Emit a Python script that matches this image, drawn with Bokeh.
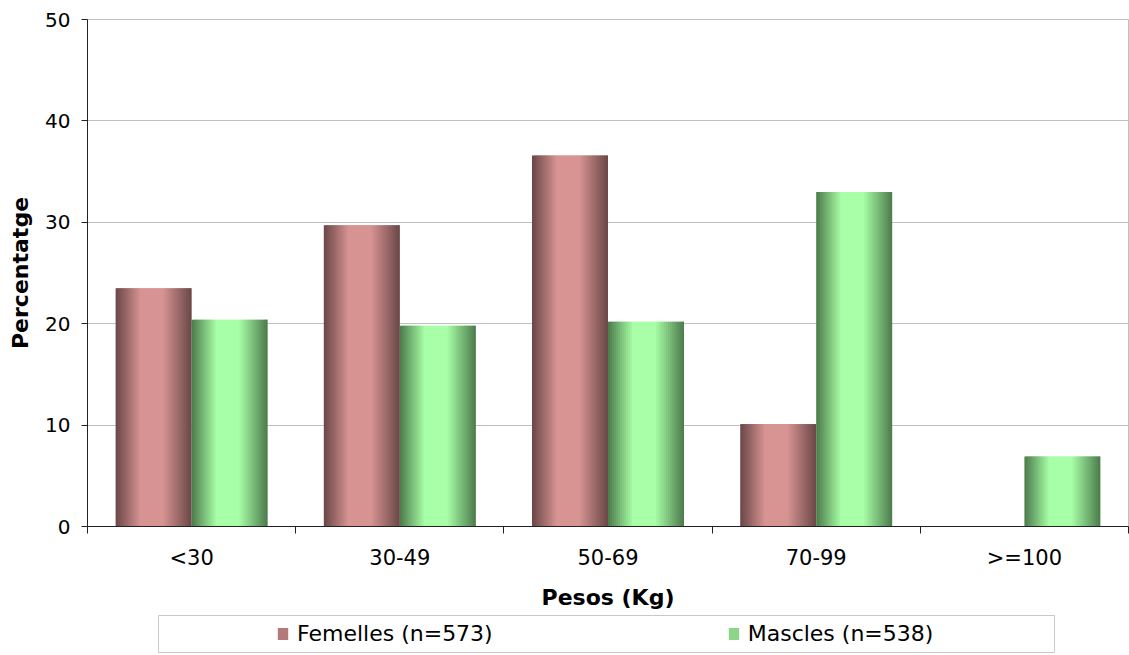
from bokeh.plotting import figure
from bokeh.layouts import column
from bokeh.models import (ColumnDataSource, FixedTicker, Legend, LegendItem, Range1d)
from bokeh.embed import file_html
from bokeh.resources import INLINE

categories = ["<30", "30-49", "50-69", "70-99", ">=100"]
femelles = [23.5, 29.7, 36.6, 10.1, 0.0]
mascles = [20.4, 19.8, 20.2, 33.0, 6.9]
series_names = ["Femelles (n=573)", "Mascles (n=538)"]
y_ticks = [0, 10, 20, 30, 40, 50]

FONT = "DejaVu Sans"
N_STRIPS = 38
BAR_W = 0.365
DARK = [(0x6a, 0x47, 0x47), (0x4b, 0x7a, 0x4b)]
LIGHT = [(0xd8, 0x93, 0x93), (0xa8, 0xff, 0xa8)]
MID = ["#b47a7a", "#8cd68c"]


def shade(f):
    if f < 0.33:
        return f / 0.33
    if f < 0.62:
        return 1.0
    return max(0.0, 1.0 - (f - 0.62) / 0.38)


def to_hex(c):
    return "#%02x%02x%02x" % tuple(int(round(v)) for v in c)


p = figure(width=1129, height=612, output_backend="svg", toolbar_location=None,
           x_range=Range1d(0, len(categories)), y_range=Range1d(0, 50),
           min_border_left=87, min_border_right=1, min_border_top=19,
           min_border_bottom=86)
p.frame_align = False
p.background_fill_color = "white"
p.border_fill_color = "white"
p.outline_line_color = "#c0c0c0"

for s, vals in enumerate([femelles, mascles]):
    lefts, rights, tops, cols = [], [], [], []
    sw = BAR_W / N_STRIPS
    for i, v in enumerate(vals):
        bar_left = i + 0.5 - BAR_W + s * BAR_W
        bar_right = bar_left + BAR_W
        for k in range(N_STRIPS):
            f = (k + 0.5) / N_STRIPS
            t = shade(f)
            c = [DARK[s][j] + (LIGHT[s][j] - DARK[s][j]) * t for j in range(3)]
            lefts.append(bar_left + k * sw)
            rights.append(min(bar_right, bar_left + (k + 1.8) * sw))
            tops.append(v)
            cols.append(to_hex(c))
    src = ColumnDataSource(dict(left=lefts, right=rights, top=tops, color=cols))
    p.quad(left="left", right="right", top="top", bottom=0, source=src,
           fill_color="color", line_color=None)

# x axis: labels at centres, ticks at boundaries
centres = [i + 0.5 for i in range(len(categories))]
p.xaxis.ticker = FixedTicker(ticks=centres, minor_ticks=list(range(len(categories) + 1)))
p.xaxis.major_label_overrides = {c: lab for c, lab in zip(centres, categories)}
p.xaxis.major_tick_out = 0
p.xaxis.major_tick_in = 0
p.xaxis.minor_tick_out = 7
p.xaxis.minor_tick_in = 0
p.xaxis.major_label_standoff = 12
p.xaxis.axis_label = "Pesos (Kg)"
p.xaxis.axis_label_standoff = 12

p.yaxis.ticker = FixedTicker(ticks=y_ticks)
p.yaxis.major_tick_out = 6
p.yaxis.major_tick_in = 0
p.yaxis.major_label_standoff = 11
p.yaxis.axis_label = "Percentatge"
p.yaxis.axis_label_standoff = 9

for ax in [p.xaxis[0], p.yaxis[0]]:
    ax.axis_line_color = "#222222"
    ax.major_tick_line_color = "#222222"
    ax.major_label_text_font = FONT
    ax.major_label_text_color = "black"
    ax.axis_label_text_font = FONT
    ax.axis_label_text_font_style = "bold"
    ax.axis_label_text_font_size = "22px"
    ax.axis_label_text_color = "black"
p.xaxis.minor_tick_line_color = "#222222"
p.yaxis.minor_tick_line_color = None
p.xaxis.major_label_text_font_size = "21px"
p.yaxis.major_label_text_font_size = "20px"

p.xgrid.grid_line_color = None
p.ygrid.ticker = FixedTicker(ticks=y_ticks)
p.ygrid.grid_line_color = "#c0c0c0"
p.ygrid.grid_line_width = 1

# legend box as a small second figure
lg = figure(width=1129, height=43, output_backend="svg", toolbar_location=None,
            x_range=Range1d(0, 1), y_range=Range1d(0, 1),
            x_axis_type=None, y_axis_type=None,
            min_border_left=158, min_border_right=75,
            min_border_top=3, min_border_bottom=3)
lg.frame_align = False
lg.grid.visible = False
lg.outline_line_color = "#c8c8c8"
lg.background_fill_color = "white"
lg.border_fill_color = "white"
leg_renderers = [lg.vbar(x=[0.5], top=[0], bottom=0, width=0,
                         fill_color=MID[s], line_color=None)
                 for s in range(2)]
items = [LegendItem(label=series_names[s], renderers=[leg_renderers[s]])
         for s in range(2)]
legend = Legend(items=items, orientation="horizontal", location=(118, 6),
                padding=0, margin=0, spacing=234, label_standoff=8,
                glyph_width=13, glyph_height=15,
                label_text_font=FONT, label_text_font_size="22px",
                border_line_color=None, background_fill_alpha=0)
legend.label_text_color = "black"
lg.add_layout(legend, "center")

open("out.html", "w").write(file_html(column(p, lg), INLINE))
